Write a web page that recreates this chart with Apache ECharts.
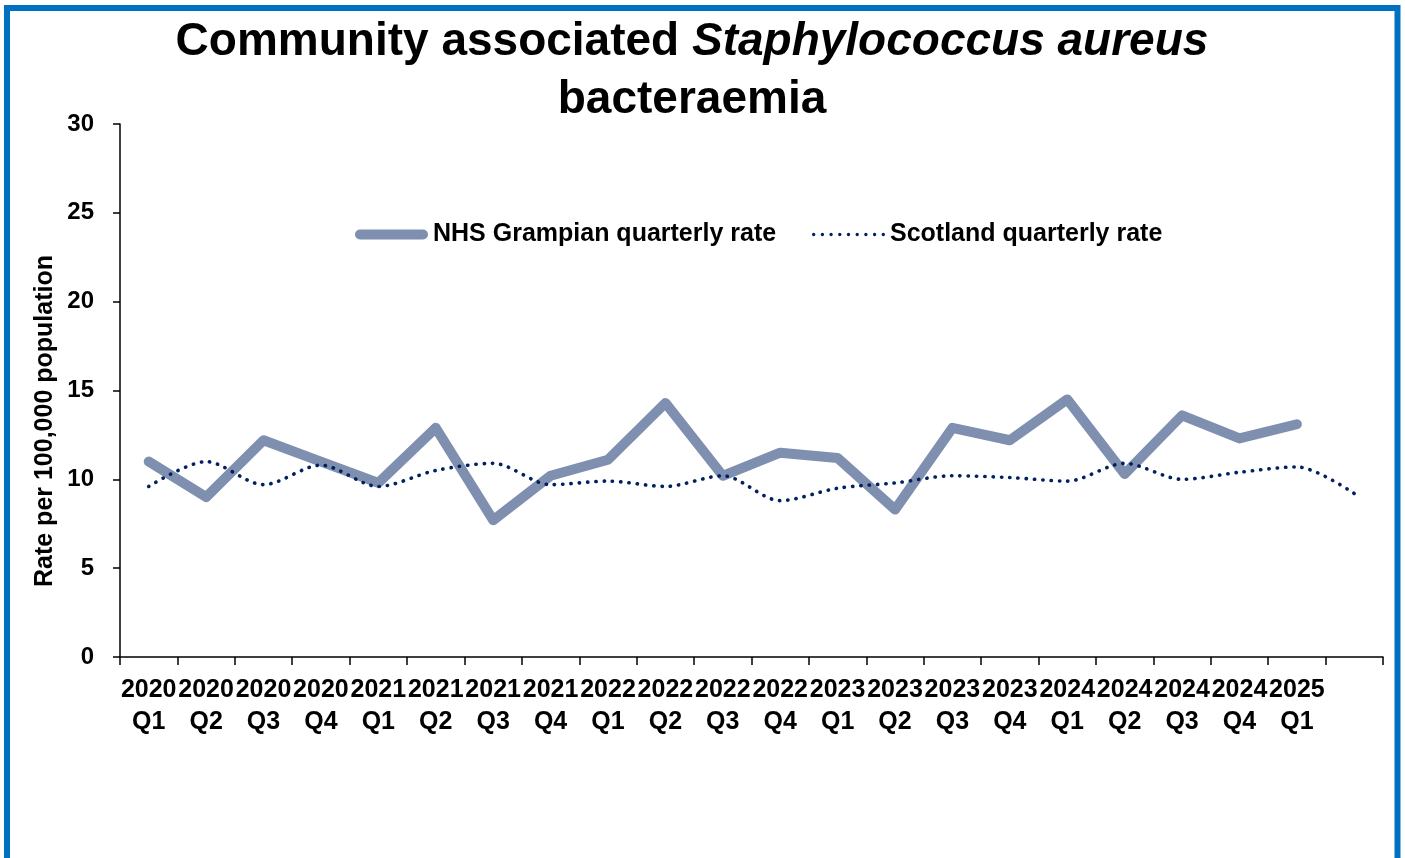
<!DOCTYPE html>
<html>
<head>
<meta charset="utf-8">
<script src="https://cdn.jsdelivr.net/npm/echarts@6/dist/echarts.min.js"></script>
<style>
html,body{margin:0;padding:0;background:#fff;}
#chart{width:1405px;height:858px;}
</style>
</head>
<body>
<div id="chart"></div>
<script>
var categories = ['2020\nQ1','2020\nQ2','2020\nQ3','2020\nQ4','2021\nQ1','2021\nQ2','2021\nQ3','2021\nQ4','2022\nQ1','2022\nQ2','2022\nQ3','2022\nQ4','2023\nQ1','2023\nQ2','2023\nQ3','2023\nQ4','2024\nQ1','2024\nQ2','2024\nQ3','2024\nQ4','2025\nQ1',''];
var grampianRate = [11.0, 9.0, 12.2, 11.0, 9.8, 12.9, 7.7, 10.2, 11.1, 14.3, 10.2, 11.5, 11.2, 8.3, 12.9, 12.2, 14.5, 10.3, 13.6, 12.3, 13.1, null];
var scotlandRate = [9.6, 11.0, 9.7, 10.8, 9.6, 10.5, 10.9, 9.7, 9.9, 9.6, 10.2, 8.8, 9.5, 9.8, 10.2, 10.1, 9.9, 10.9, 10.0, 10.4, 10.7, 9.2];
var yTicks = [0, 5, 10, 15, 20, 25, 30];

var FONT = '"Liberation Sans", Arial, sans-serif';

// legend icon shapes (styling only)
var capsulePath = 'path://M5 0 H68 A5 5 0 0 1 68 10 H5 A5 5 0 0 1 5 0 Z';
var dotsPath = 'path://';
(function () {
  var r = 1.7, n = 9, w = 73;
  var step = (w - 2 * r) / (n - 1);
  for (var k = 0; k < n; k++) {
    var cx = r + k * step;
    dotsPath += 'M' + (cx - r) + ' ' + r + ' A' + r + ' ' + r + ' 0 1 0 ' + (cx + r) + ' ' + r + ' A' + r + ' ' + r + ' 0 1 0 ' + (cx - r) + ' ' + r + ' Z ';
  }
})();

var legendText = { fontFamily: FONT, fontWeight: 'bold', fontSize: 25, color: '#000' };

var chart = echarts.init(document.getElementById('chart'), null, {renderer: 'canvas'});
chart.setOption({
  backgroundColor: '#ffffff',
  animation: false,
  title: {
    text: 'Community associated {i|Staphylococcus aureus}\nbacteraemia',
    left: 692,
    textAlign: 'center',
    top: 13,
    padding: 0,
    textStyle: {
      fontFamily: FONT, fontWeight: 'bold', fontSize: 46, color: '#000', lineHeight: 58,
      rich: { i: { fontFamily: FONT, fontWeight: 'bold', fontStyle: 'italic', fontSize: 46, color: '#000', lineHeight: 58 } }
    }
  },
  legend: [
    {
      left: 355, top: 222, itemWidth: 73, itemHeight: 10, itemGap: 4, padding: 0,
      textStyle: legendText,
      data: [{ name: 'NHS Grampian quarterly rate', icon: capsulePath, itemStyle: { color: '#7F8FAF' } }]
    },
    {
      left: 812, top: 222, itemWidth: 73, itemHeight: 3.4, itemGap: 4, padding: 0,
      textStyle: legendText,
      data: [{ name: 'Scotland quarterly rate', icon: dotsPath, itemStyle: { color: '#002060' } }]
    }
  ],
  grid: { left: 120, top: 124, right: 22, bottom: 201, containLabel: false },
  xAxis: {
    type: 'category',
    data: categories,
    boundaryGap: true,
    axisLine: { lineStyle: { color: '#000', width: 1.5 } },
    axisTick: { show: true, length: 8, lineStyle: { color: '#000', width: 1.5 } },
    axisLabel: { interval: 0, margin: 17, fontFamily: FONT, fontWeight: 'bold', fontSize: 25, color: '#000', lineHeight: 32 }
  },
  yAxis: {
    type: 'value',
    min: yTicks[0], max: yTicks[yTicks.length - 1], interval: 5,
    splitLine: { show: false },
    axisLine: { show: true, lineStyle: { color: '#000', width: 1.5 } },
    axisTick: { show: true, length: 7, lineStyle: { color: '#000', width: 1.5 } },
    axisLabel: { margin: 26, fontFamily: FONT, fontWeight: 'bold', fontSize: 24, color: '#000' }
  },
  graphic: [
    { type: 'rect', silent: true, z: 100, shape: { x: 7, y: 8, width: 1390.5, height: 900 }, style: { fill: 'none', stroke: '#0070C0', lineWidth: 6 } },
    { type: 'text', silent: true, x: 45, y: 421, rotation: Math.PI / 2, style: { text: 'Rate per 100,000 population', font: 'bold 25px ' + FONT, fill: '#000', align: 'center', verticalAlign: 'middle' } }
  ],
  series: [
    {
      name: 'NHS Grampian quarterly rate',
      type: 'line',
      data: grampianRate,
      symbol: 'none',
      z: 2,
      itemStyle: { color: '#7F8FAF' },
      lineStyle: { color: '#7F8FAF', width: 10, cap: 'round', join: 'round' }
    },
    {
      name: 'Scotland quarterly rate',
      type: 'line',
      data: scotlandRate,
      symbol: 'none',
      smooth: 0.3,
      z: 3,
      itemStyle: { color: '#002060' },
      lineStyle: { color: '#002060', width: 3.6, type: [0.3, 8], cap: 'round' }
    }
  ]
});
</script>
</body>
</html>
